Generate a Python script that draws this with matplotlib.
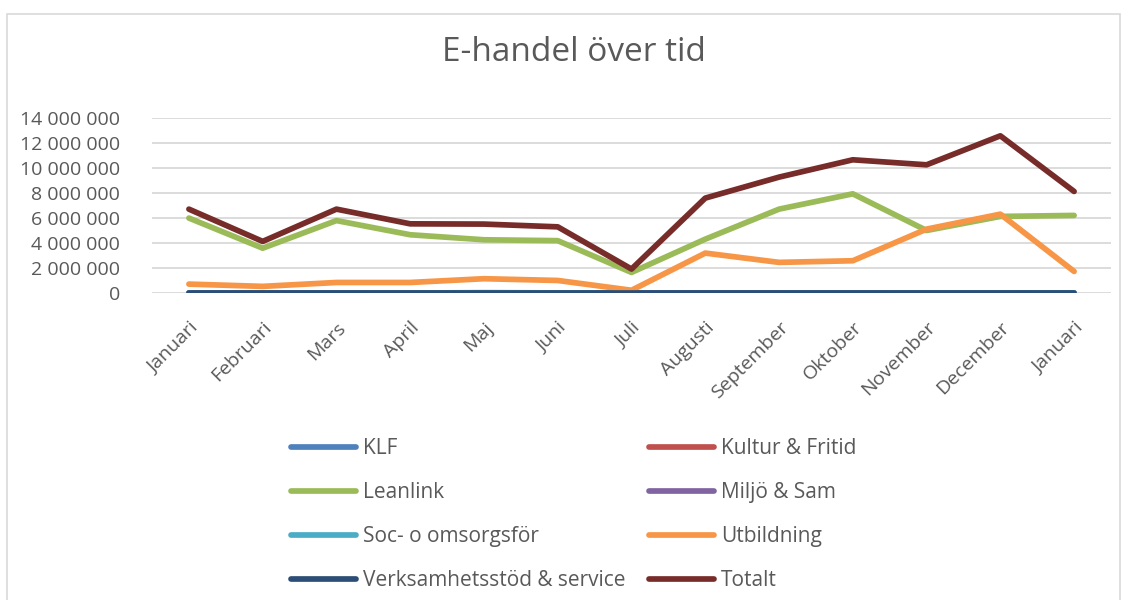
import matplotlib.pyplot as plt
from matplotlib.patches import Rectangle
from matplotlib.ticker import FuncFormatter, MultipleLocator
import numpy as np

plt.rcParams['font.family'] = ['Open Sans', 'DejaVu Sans']

manader = ['Januari', 'Februari', 'Mars', 'April', 'Maj', 'Juni', 'Juli',
           'Augusti', 'September', 'Oktober', 'November', 'December', 'Januari']

klf = [5000, 5000, 5000, 5000, 5000, 5000, 5000, 5000, 5000, 5000, 5000, 5000, 5000]
kultur = [10000, 10000, 10000, 10000, 10000, 10000, 10000, 10000, 10000, 10000, 10000, 10000, 10000]
leanlink = [6000000, 3600000, 5800000, 4670000, 4270000, 4200000, 1670000,
            4320000, 6710000, 7930000, 5010000, 6130000, 6210000]
miljo = [5000, 5000, 5000, 5000, 5000, 5000, 5000, 5000, 5000, 5000, 5000, 5000, 5000]
soc = [20000, 15000, 25000, 30000, 60000, 40000, 20000, 15000, 20000, 25000, 30000, 30000, 40000]
utbildning = [740000, 560000, 870000, 870000, 1170000, 1030000, 250000,
              3210000, 2470000, 2600000, 5120000, 6310000, 1750000]
verksamhet = [20000, 20000, 20000, 20000, 20000, 20000, 20000, 20000, 20000, 20000, 20000, 20000, 20000]
totalt = [6710000, 4140000, 6710000, 5540000, 5520000, 5300000, 1940000,
          7590000, 9260000, 10640000, 10240000, 12550000, 8120000]

serier = [
    ('KLF', klf, '#4F81BD'),
    ('Kultur & Fritid', kultur, '#C0504D'),
    ('Leanlink', leanlink, '#9BBB59'),
    ('Miljö & Sam', miljo, '#8064A2'),
    ('Soc- o omsorgsför', soc, '#4BACC6'),
    ('Utbildning', utbildning, '#F79646'),
    ('Verksamhetsstöd & service', verksamhet, '#2C4D75'),
    ('Totalt', totalt, '#772C2A'),
]

textfarg = '#595959'

fig = plt.figure(figsize=(11.27, 6), dpi=100)
ax = fig.add_axes([0.1349, 0.511, 0.8509, 0.293])

x = np.arange(len(manader))
linjer = {}
for namn, varden, farg in serier:
    l, = ax.plot(x, varden, color=farg, lw=4.1, solid_capstyle='round',
                 solid_joinstyle='round', label=namn)
    linjer[namn] = l

ax.set_xlim(-0.5, len(manader) - 0.5)
ax.set_ylim(0, 14000000)
ax.yaxis.set_major_locator(MultipleLocator(2000000))
ax.yaxis.set_major_formatter(FuncFormatter(lambda v, p: f'{int(v):,}'.replace(',', ' ')))
ax.grid(axis='y', color='#D9D9D9', lw=1.3)
ax.set_axisbelow(True)
for s in ax.spines.values():
    s.set_visible(False)
ax.tick_params(length=0, labelsize=14, colors=textfarg)
ax.tick_params(axis='y', pad=23)
ax.set_xticks(x)
ax.set_xticklabels(manader, rotation=45, ha='right', rotation_mode='anchor')
ax.tick_params(axis='x', pad=18)

fig.text(0.509, 0.913, 'E-handel över tid', ha='center', va='center',
         fontsize=24, color=textfarg)

# Excel-legenden fylls radvis, matplotlib kolumnvis
ordning = ['KLF', 'Leanlink', 'Soc- o omsorgsför', 'Verksamhetsstöd & service',
           'Kultur & Fritid', 'Miljö & Sam', 'Utbildning', 'Totalt']
leg = fig.legend([linjer[n] for n in ordning], ordning, ncol=2,
                 loc='center', bbox_to_anchor=(0.509, 0.142), frameon=False,
                 fontsize=15, handlelength=3.12, handletextpad=0.34,
                 columnspacing=1.15, labelspacing=1.1, labelcolor=textfarg)

fig.patches.append(Rectangle((0.0062, -0.05), 0.9876, 1.0267, transform=fig.transFigure,
                             fill=False, edgecolor='#D9D9D9', lw=1.2))

fig.savefig('out.png', dpi=100)
